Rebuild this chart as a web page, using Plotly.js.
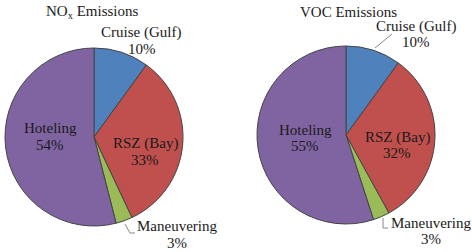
<!DOCTYPE html>
<html>
<head>
<meta charset="utf-8">
<script src="https://cdn.plot.ly/plotly-3.0.1.min.js"></script>
<style>html,body{margin:0;padding:0;background:#fff;}#chart{width:472px;height:252px;}</style>
</head>
<body>
<div id="chart"></div>
<script>
var categories = ['Cruise (Gulf)', 'RSZ (Bay)', 'Maneuvering', 'Hoteling'];
var noxValues = [10, 33, 3, 54];
var vocValues = [10, 32, 3, 55];
var chartTitles = ['NO<sub>x</sub> Emissions', 'VOC Emissions'];
var sliceColors = ['#4F81BD', '#C0504D', '#9BBB59', '#8064A2'];

var W = 472, H = 252;
function px(x) { return x / W; }
function py(y) { return 1 - y / H; }

var font = {family: 'Liberation Serif, Times New Roman, serif', size: 15, color: '#1a1a1a'};

function pieTrace(vals, cx, cy, r) {
  return {
    type: 'pie',
    values: vals,
    labels: categories,
    sort: false,
    direction: 'clockwise',
    rotation: 0,
    textinfo: 'none',
    hoverinfo: 'label+percent',
    marker: {colors: sliceColors, line: {color: '#444', width: 1}},
    domain: {x: [px(cx - r), px(cx + r)], y: [py(cy + r), py(cy - r)]},
    showlegend: false
  };
}

// label layout (pixel centres) for each pie: [name, pct] per category
var labelPos = [
  [[141, 33, 142, 49], [145, 143, 145, 160], [177, 226, 177, 243], [50, 128, 50, 145]],
  [[416, 27, 416, 42], [397, 137, 397, 153], [431, 223, 431, 239], [305, 130, 305, 146]]
];
var titlePos = [[92, 12], [348, 12]];
var series = [noxValues, vocValues];

var annotations = [];
series.forEach(function (vals, s) {
  annotations.push({text: chartTitles[s], x: px(titlePos[s][0]), y: py(titlePos[s][1]),
    xref: 'paper', yref: 'paper', showarrow: false, xanchor: 'center', yanchor: 'middle', font: font});
  vals.forEach(function (v, i) {
    var p = labelPos[s][i];
    annotations.push({text: categories[i], x: px(p[0]), y: py(p[1]), xref: 'paper', yref: 'paper',
      showarrow: false, xanchor: 'center', yanchor: 'middle', font: font});
    annotations.push({text: v + '%', x: px(p[2]), y: py(p[3]), xref: 'paper', yref: 'paper',
      showarrow: false, xanchor: 'center', yanchor: 'middle', font: font});
  });
});

function pathFrom(pts) {
  return pts.map(function (p, i) { return (i ? 'L' : 'M') + px(p[0]) + ',' + py(p[1]); }).join(' ');
}
var leader = {color: '#888', width: 1};
var shapes = [
  {type: 'path', xref: 'paper', yref: 'paper', path: pathFrom([[125, 224], [130, 233], [135, 233]]), line: leader},
  {type: 'path', xref: 'paper', yref: 'paper', path: pathFrom([[375, 48], [392, 34]]), line: leader},
  {type: 'path', xref: 'paper', yref: 'paper', path: pathFrom([[383, 218], [383, 228], [388, 228]]), line: leader}
];

var layout = {
  width: W, height: H,
  margin: {l: 0, r: 0, t: 0, b: 0},
  paper_bgcolor: '#fff',
  annotations: annotations,
  shapes: shapes,
  showlegend: false
};

Plotly.newPlot('chart', [pieTrace(noxValues, 94, 137, 89), pieTrace(vocValues, 346, 135, 89)], layout, {displayModeBar: false, staticPlot: true});
</script>
</body>
</html>
